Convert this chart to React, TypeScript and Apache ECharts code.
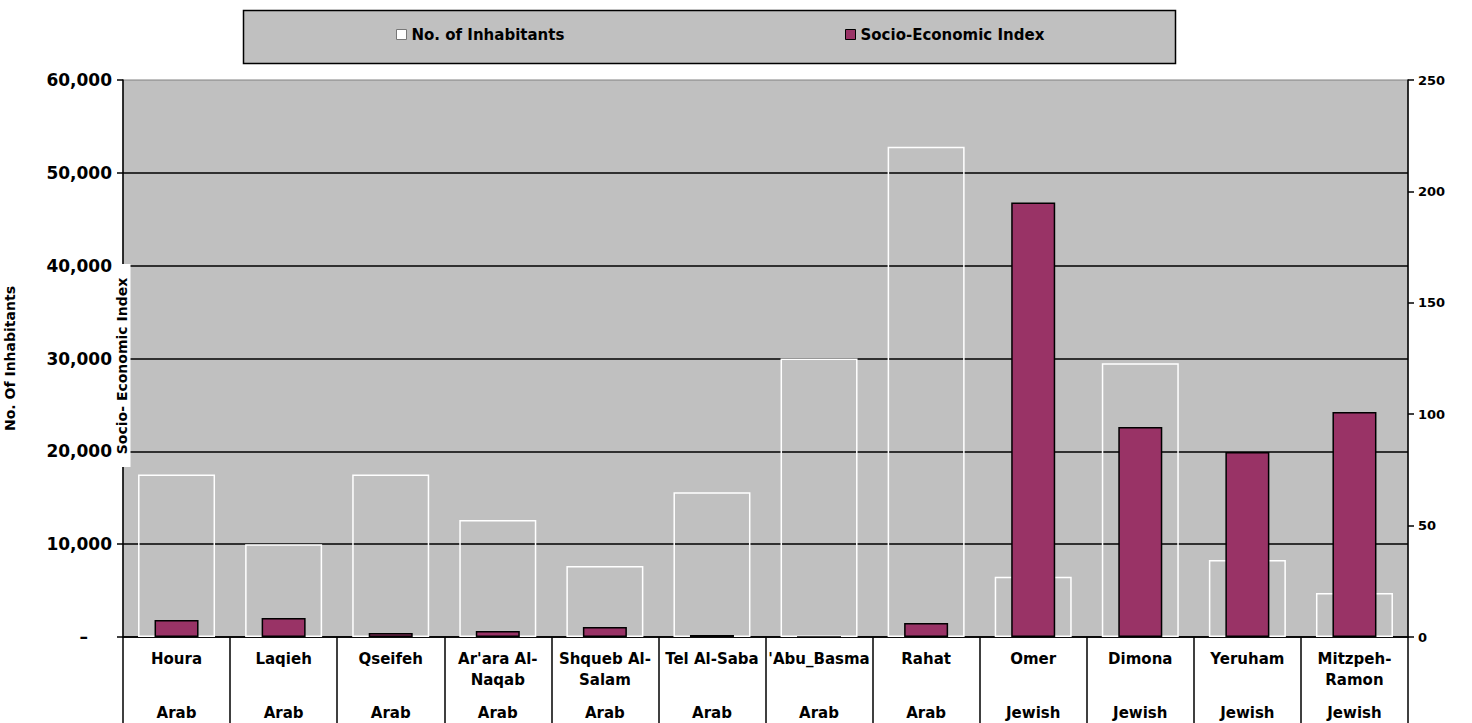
import React, { useEffect, useRef } from "react";
import * as echarts from "echarts";

const categories = [
  "Houra",
  "Laqieh",
  "Qseifeh",
  "Ar'ara Al-\nNaqab",
  "Shqueb Al-\nSalam",
  "Tel Al-Saba",
  "'Abu_Basma",
  "Rahat",
  "Omer",
  "Dimona",
  "Yeruham",
  "Mitzpeh-\nRamon",
];
const groups = ["Arab", "Arab", "Arab", "Arab", "Arab", "Arab", "Arab", "Arab", "Jewish", "Jewish", "Jewish", "Jewish"];
const inhabitants = [17500, 10000, 17500, 12600, 7650, 15600, 30000, 52800, 6500, 29500, 8300, 4750];
const socioIndex = [7.6, 8.5, 1.8, 2.7, 4.5, 0.9, 0, 6.3, 195, 94.3, 83, 101];
const leftTicks = [0, 10000, 20000, 30000, 40000, 50000, 60000];
const rightTicks = [0, 50, 100, 150, 200, 250];

const FONT = "DejaVu Sans";

export default function App() {
  const ref = useRef<HTMLDivElement>(null);
  useEffect(() => {
    document.body.style.margin = "0";
    const chart = echarts.init(ref.current!, undefined, { renderer: "svg" });
    const option: any = {
      animation: false,
      backgroundColor: "#ffffff",
      textStyle: { fontFamily: FONT },
      grid: {
        left: 123,
        right: 64,
        top: 80,
        bottom: 86,
        outerBoundsMode: "none",
        containLabel: false,
        show: true,
        backgroundColor: "#c0c0c0",
        borderColor: "#808080",
        borderWidth: 1,
      },
      graphic: [
        {
          type: "rect",
          z: 0,
          shape: { x: 243.5, y: 10.5, width: 932, height: 53 },
          style: { fill: "#c0c0c0", stroke: "#000", lineWidth: 1.5 },
        },
        {
          type: "rect",
          z: 99,
          shape: { x: 112.5, y: 264, width: 18, height: 203 },
          style: { fill: "#ffffff" },
        },
        {
          type: "text",
          z: 100,
          x: 121.5,
          y: 366,
          rotation: Math.PI / 2,
          style: {
            text: "Socio- Economic Index",
            fontFamily: FONT,
            fontSize: 14,
            fontWeight: "bold",
            fill: "#000",
            align: "center",
            verticalAlign: "middle",
          },
        },
      ],
      legend: [
        {
          data: [
            {
              name: "No. of Inhabitants",
              itemStyle: { color: "#ffffff", borderColor: "#777", borderWidth: 1 },
            },
          ],
          left: 396,
          top: 27,
          padding: 0,
          icon: "rect",
          itemWidth: 10,
          itemHeight: 10,
          itemGap: 5,
          selectedMode: false,
          textStyle: { fontFamily: FONT, fontSize: 15, fontWeight: "bold", color: "#000" },
        },
        {
          data: [
            {
              name: "Socio-Economic Index",
              itemStyle: { color: "#993366", borderColor: "#000", borderWidth: 1 },
            },
          ],
          left: 845,
          top: 27,
          padding: 0,
          icon: "rect",
          itemWidth: 10,
          itemHeight: 10,
          selectedMode: false,
          textStyle: { fontFamily: FONT, fontSize: 15, fontWeight: "bold", color: "#000" },
        },
      ],
      xAxis: [
        {
          type: "category",
          data: categories,
          position: "bottom",
          axisLine: { show: true, lineStyle: { color: "#000", width: 1.5 } },
          axisTick: { show: true, length: 86, interval: 0, lineStyle: { color: "#000", width: 1.5 } },
          splitLine: { show: false },
          axisLabel: {
            interval: 0,
            margin: 11,
            color: "#000",
            formatter: (value: string, index: number) => {
              const lines = value.split("\n");
              const parts = lines.map((l) => `{n|${l}}`);
              if (parts.length === 1) parts.push("{n| }");
              parts.push(`{g|${groups[index]}}`);
              return parts.join("\n");
            },
            rich: {
              n: { fontFamily: FONT, fontSize: 15, fontWeight: "bold", color: "#000", lineHeight: 21 },
              g: { fontFamily: FONT, fontSize: 15, fontWeight: "bold", color: "#000", lineHeight: 45 },
            },
          },
        },
        {
          type: "category",
          data: categories,
          position: "bottom",
          show: false,
        },
      ],
      yAxis: [
        {
          type: "value",
          min: 0,
          max: 60000,
          interval: 10000,
          name: "No. Of Inhabitants",
          nameLocation: "middle",
          nameGap: 106,
          nameTextStyle: { fontFamily: FONT, fontSize: 14, fontWeight: "bold", color: "#000" },
          axisLine: { show: true, lineStyle: { color: "#000", width: 1.5 } },
          axisTick: { show: true, length: 6, lineStyle: { color: "#000", width: 1.5 } },
          splitLine: { show: true, showMaxLine: false, lineStyle: { color: "#000", width: 1.5 } },
          axisLabel: {
            margin: 11,
            color: "#000",
            fontFamily: FONT,
            fontSize: 17,
            fontWeight: "bold",
            formatter: (v: number) =>
              leftTicks.includes(v) ? (v === 0 ? "{d|–}" : v.toLocaleString("en-US")) : "",
            rich: {
              d: { fontFamily: FONT, fontSize: 17, fontWeight: "bold", color: "#000", padding: [0, 24, 0, 0] },
            },
          },
        },
        {
          type: "value",
          min: 0,
          max: 250,
          interval: 50,
          position: "right",
          axisLine: { show: true, lineStyle: { color: "#000", width: 1.5 } },
          axisTick: { show: true, length: 6, lineStyle: { color: "#000", width: 1.5 } },
          splitLine: { show: false },
          axisLabel: {
            margin: 10,
            color: "#000",
            fontFamily: FONT,
            fontSize: 13,
            fontWeight: "bold",
            formatter: (v: number) => (rightTicks.includes(v) ? String(v) : ""),
          },
        },
      ],
      series: [
        {
          name: "No. of Inhabitants",
          type: "bar",
          xAxisIndex: 0,
          yAxisIndex: 0,
          barWidth: 77,
          data: inhabitants,
          itemStyle: { color: "rgba(0,0,0,0)", borderColor: "#ffffff", borderWidth: 1.5 },
          z: 2,
        },
        {
          name: "Socio-Economic Index",
          type: "bar",
          xAxisIndex: 1,
          yAxisIndex: 1,
          barWidth: 44,
          data: socioIndex,
          itemStyle: { color: "#993366", borderColor: "#000", borderWidth: 1.5 },
          z: 3,
        },
      ],
    };
    chart.setOption(option);
    return () => chart.dispose();
  }, []);
  return <div ref={ref} style={{ width: 1472, height: 723 }} />;
}
